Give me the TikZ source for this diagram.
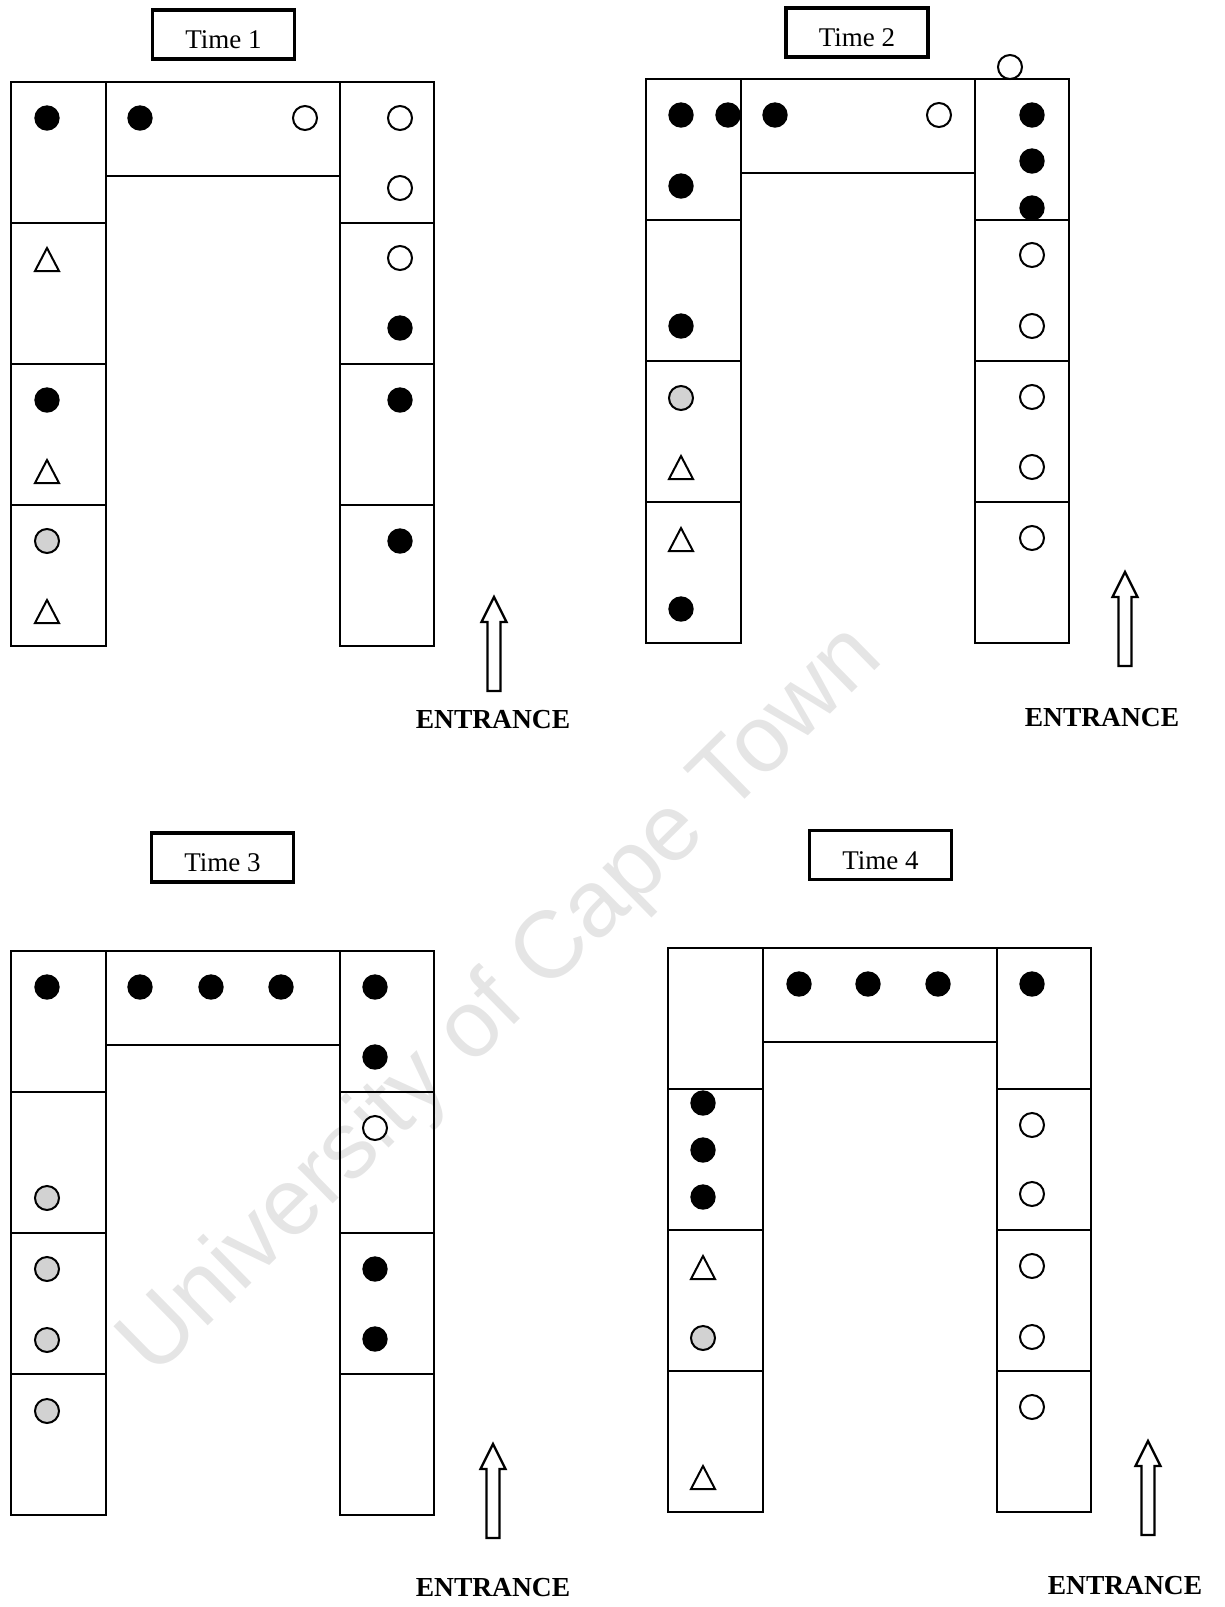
\documentclass[tikz,border=0pt]{standalone}
\usepackage{fontspec}
\setmainfont{Liberation Serif}
\newfontfamily\wmfont{Liberation Sans}
\usetikzlibrary{positioning}
\tikzset{wall/.style={draw, line width=2.7pt}, timebox/.style={draw, line width=3.5pt, minimum width=142pt, minimum height=49pt, text height=28pt, text depth=0pt, font=\fontsize{27}{32}\selectfont}}
\tikzset{entr/.style={font=\bfseries\fontsize{27.5}{32}\selectfont}, gate/.style={draw, line width=2.4pt, fill=white, line join=miter}}
\tikzset{bdot/.style={fill=black}, odot/.style={draw, fill=white, line width=2pt}, gdot/.style={draw, fill=gray!35, line width=2pt}, tri/.style={draw, line width=2pt, line join=miter}}

\begin{document}
\begin{tikzpicture}[x=1pt, y=-1pt]
\useasboundingbox (0,0) rectangle (1224,1607);

% Watermark
\node[rotate=44.5, text=black!10, font=\wmfont\fontsize{95}{100}\selectfont] (wm) at (503,1002) {University of Cape Town};

% Time labels
\node[timebox] (time1) at (223.5,34.5) {Time 1};
\node[timebox] (time2) at (857,32.5) {Time 2};
\node[timebox] (time3) at (222.5,857.5) {Time 3};
\node[timebox] (time4) at (880.5,855) {Time 4};

% Floor plans
\foreach \px/\py in {11/82, 646/79, 11/951, 668/948} {
  \foreach \c in {0,...,3} {
    \draw[wall] (\px,{\py+141*\c}) rectangle ++(95,141);
    \draw[wall] ({\px+329},{\py+141*\c}) rectangle ++(94,141);
  }
  \draw[wall] ({\px+95},\py) rectangle ({\px+329},{\py+94});
}

% Entrances
\node[entr] (entr1) at (493,720) {ENTRANCE};
\node[entr] (entr2) at (1102,718) {ENTRANCE};
\node[entr] (entr3) at (493,1588) {ENTRANCE};
\node[entr] (entr4) at (1125,1586) {ENTRANCE};
\coordinate (gate1) at (494,691);
\coordinate (gate2) at (1125,666);
\coordinate (gate3) at (493,1538);
\coordinate (gate4) at (1148,1535);
\foreach \g in {gate1,gate2,gate3,gate4}
  \draw[gate] (\g) ++(-6.5,0) -- ++(0,-69) -- ++(-6,0) -- ++(12.5,-25) -- ++(12.5,25) -- ++(-6,0) -- ++(0,69) -- cycle;

% Time 1
\foreach \x/\y in {47/118, 140/118, 47/400, 400/328, 400/400, 400/541}
  \path[bdot] (\x,\y) circle[radius=12.7pt];
\foreach \x/\y in {305/118, 400/118, 400/188, 400/258}
  \path[odot] (\x,\y) circle[radius=12pt];
\path[gdot] (47,541) circle[radius=12pt];
\foreach \x/\y in {47/260, 47/472, 47/612}
  \draw[tri] (\x,\y) ++(-12,11) -- ++(24,0) -- ++(-12,-23) -- cycle;

% Time 2
\foreach \x/\y in {681/115, 728/115, 775/115, 681/186, 681/326, 681/609, 1032/115, 1032/161, 1032/208}
  \path[bdot] (\x,\y) circle[radius=12.7pt];
\foreach \x/\y in {939/115, 1010/67, 1032/255, 1032/326, 1032/397, 1032/467, 1032/538}
  \path[odot] (\x,\y) circle[radius=12pt];
\path[gdot] (681,398) circle[radius=12pt];
\foreach \x/\y in {681/468, 681/540}
  \draw[tri] (\x,\y) ++(-12,11) -- ++(24,0) -- ++(-12,-23) -- cycle;

% Time 3
\foreach \x/\y in {47/987, 140/987, 211/987, 281/987, 375/987, 375/1057, 375/1269, 375/1339}
  \path[bdot] (\x,\y) circle[radius=12.7pt];
\path[odot] (375,1128) circle[radius=12pt];
\foreach \x/\y in {47/1198, 47/1269, 47/1340, 47/1411}
  \path[gdot] (\x,\y) circle[radius=12pt];

% Time 4
\foreach \x/\y in {703/1103, 703/1150, 703/1197, 799/984, 868/984, 938/984, 1032/984}
  \path[bdot] (\x,\y) circle[radius=12.7pt];
\foreach \x/\y in {1032/1125, 1032/1194, 1032/1266, 1032/1337, 1032/1407}
  \path[odot] (\x,\y) circle[radius=12pt];
\path[gdot] (703,1338) circle[radius=12pt];
\foreach \x/\y in {703/1268, 703/1478}
  \draw[tri] (\x,\y) ++(-12,11) -- ++(24,0) -- ++(-12,-23) -- cycle;

\end{tikzpicture}
\end{document}
